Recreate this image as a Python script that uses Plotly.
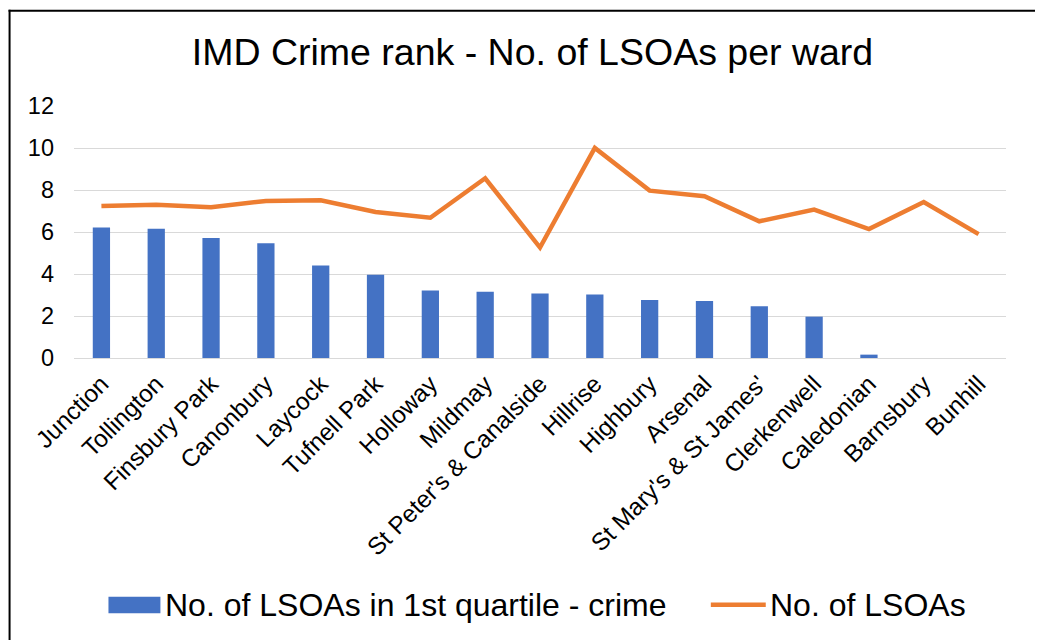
import plotly.graph_objects as go

wards = ["Junction", "Tollington", "Finsbury Park", "Canonbury", "Laycock", "Tufnell Park",
         "Holloway", "Mildmay", "St Peter's & Canalside", "Hillrise", "Highbury", "Arsenal",
         "St Mary's & St James'", "Clerkenwell", "Caledonian", "Barnsbury", "Bunhill"]
first_quartile_crime = [6.21, 6.16, 5.71, 5.46, 4.41, 3.97, 3.21, 3.16, 3.07, 3.02, 2.76, 2.71,
                        2.46, 1.97, 0.16, 0, 0]
no_of_lsoas = [7.24, 7.30, 7.18, 7.48, 7.51, 6.95, 6.68, 8.56, 5.26, 10.0, 7.97, 7.70,
               6.51, 7.07, 6.14, 7.43, 5.90]
y_ticks = [0, 2, 4, 6, 8, 10, 12]
bar_name = "No. of LSOAs in 1st quartile - crime"
line_name = "No. of LSOAs"

BLUE, ORANGE = "#4472C4", "#ED7D31"
FONT = "Arial, Liberation Sans, sans-serif"
OFF = 8  # page body margin
W, H = 1043 - OFF, 640 - OFF
L, T = 73.5 - OFF, 105.7 - OFF
pw, ph = 933, 252
R, B = W - L - pw, H - T - ph

def px(x):  # screen pixel -> paper x
    return (x - OFF - L) / pw

def py(y):  # screen pixel -> paper y
    return (T + ph - (y - OFF)) / ph

fig = go.Figure()
fig.add_trace(go.Bar(
    x=wards, y=first_quartile_crime, name=bar_name, showlegend=False,
    marker=dict(color=BLUE, line=dict(width=0)),
))
fig.add_trace(go.Scatter(
    x=wards, y=no_of_lsoas, name=line_name, mode="lines", showlegend=False,
    line=dict(color=ORANGE, width=4.5),
))

shapes = [
    # chart frame (top and left edges visible in the reference)
    dict(type="line", xref="paper", yref="paper",
         x0=px(8), x1=px(1043), y0=py(10.5), y1=py(10.5),
         line=dict(color="#000000", width=2), layer="above"),
    dict(type="line", xref="paper", yref="paper",
         x0=px(9), x1=px(9), y0=py(9.5), y1=py(640),
         line=dict(color="#000000", width=2), layer="above"),
    # legend keys
    dict(type="rect", xref="paper", yref="paper",
         x0=px(108), x1=px(160), y0=py(613), y1=py(596.5),
         line=dict(width=0), fillcolor=BLUE),
    dict(type="line", xref="paper", yref="paper",
         x0=px(711), x1=px(766), y0=py(604.5), y1=py(604.5),
         line=dict(color=ORANGE, width=4.5)),
]
annotations = [
    dict(text=bar_name, xref="paper", yref="paper", x=px(163), y=py(605),
         xanchor="left", yanchor="middle", showarrow=False,
         font=dict(size=32, family=FONT, color="#000")),
    dict(text=line_name, xref="paper", yref="paper", x=px(768), y=py(605),
         xanchor="left", yanchor="middle", showarrow=False,
         font=dict(size=32, family=FONT, color="#000")),
]

fig.update_layout(
    width=W, height=H,
    margin=dict(l=L, r=R, t=T, b=B, autoexpand=False),
    paper_bgcolor="white", plot_bgcolor="white",
    font=dict(family=FONT, color="#000000"),
    bargap=0.685,
    showlegend=False,
    title=dict(text="IMD Crime rank - No. of LSOAs per ward", font=dict(size=37.5, family=FONT, color="#000"),
               x=(532.5 - OFF) / W, xanchor="center", xref="container",
               y=1 - (52 - OFF) / H, yanchor="middle", yref="container"),
    xaxis=dict(tickangle=-45, tickfont=dict(size=24.3, family=FONT, color="#000"),
               showgrid=False, showline=False, ticks="", zeroline=False, automargin=False,
               ticklabelstandoff=6),
    yaxis=dict(range=[0, 12], tickvals=y_ticks, ticktext=[str(v) for v in y_ticks],
               tickfont=dict(size=23.5, family=FONT, color="#000"),
               showgrid=True, gridcolor="#D9D9D9", gridwidth=1.3,
               zeroline=True, zerolinecolor="#D9D9D9", zerolinewidth=1.3,
               showline=False, ticks="", ticklabelstandoff=19, automargin=False),
    shapes=shapes,
    annotations=annotations,
)

fig.write_html("out.html")
